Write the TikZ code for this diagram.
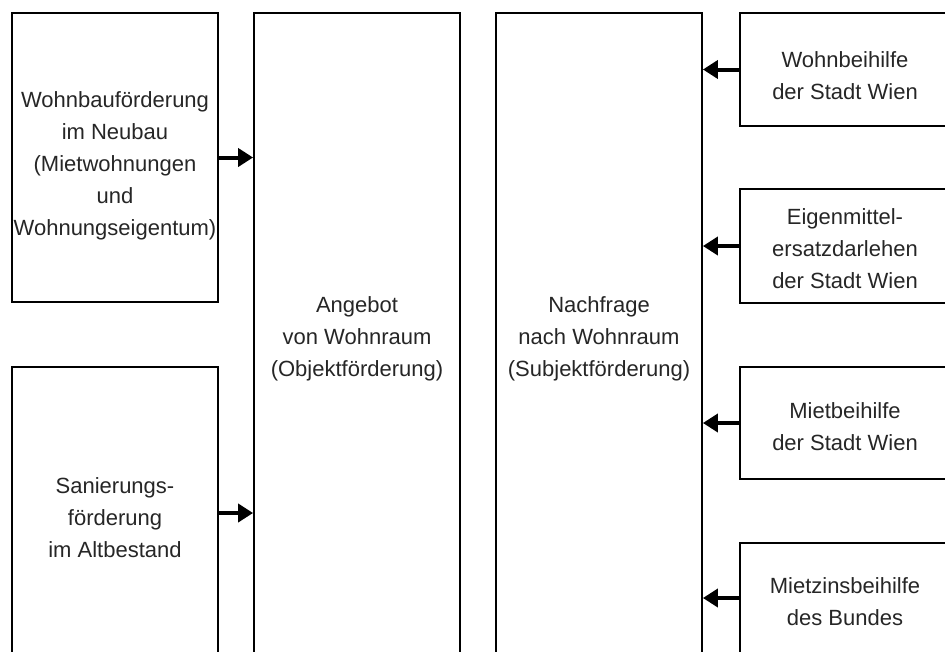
\documentclass[tikz,border=0pt]{standalone}
\usepackage{fontspec}
\setmainfont{Liberation Sans}
\usetikzlibrary{arrows.meta}
\begin{document}
\begin{tikzpicture}[x=1pt,y=-1pt,
  box/.style={draw, line width=1.8pt, inner sep=0pt},
  txt/.style={inner sep=0pt, align=center, text=black!85,
    font=\fontsize{22}{32}\selectfont},
  arr/.style={line width=4pt, -{Triangle[length=15pt,width=18pt]}}]
\useasboundingbox (0,0) rectangle (945,651);
\clip (0,0) rectangle (945,651);
% left column
\node[box, minimum width=206, minimum height=289] (wb) at (115,157.5) {};
\node[box, minimum width=206, minimum height=292] (san) at (115,513) {};
% middle columns
\node[box, minimum width=206, minimum height=646] (ang) at (357,336) {};
\node[box, minimum width=206, minimum height=646] (nach) at (599,336) {};
% right column
\node[box, minimum width=210, minimum height=113] (r1) at (845,69.5) {};
\node[box, minimum width=210, minimum height=114] (r2) at (845,246) {};
\node[box, minimum width=210, minimum height=112] (r3) at (845,423) {};
\node[box, minimum width=210, minimum height=110] (r4) at (845,598) {};
% texts
\node[txt] (twb) at ([yshift=-8pt]wb.center)
  {Wohnbauförderung\\im Neubau\\(Mietwohnungen\\und\\Wohnungseigentum)};
\node[txt] (tsan) at ([yshift=-5pt]san.center) {Sanierungs-\\förderung\\im Altbestand};
\node[txt] (tang) at ([yshift=-3pt]ang.center) {Angebot\\von Wohnraum\\(Objektförderung)};
\node[txt] (tnach) at ([yshift=-3pt]nach.center) {Nachfrage\\nach Wohnraum\\(Subjektförderung)};
\node[txt] (tr1) at ([yshift=-6pt]r1.center) {Wohnbeihilfe\\der Stadt Wien};
\node[txt] (tr2) at ([yshift=-3pt]r2.center) {Eigenmittel-\\ersatzdarlehen\\der Stadt Wien};
\node[txt] (tr3) at ([yshift=-4pt]r3.center) {Mietbeihilfe\\der Stadt Wien};
\node[txt] (tr4) at ([yshift=-4pt]r4.center) {Mietzinsbeihilfe\\des Bundes};
% arrows
\draw[arr] (wb.east) -- (wb.east -| ang.west);
\draw[arr] (san.east) -- (san.east -| ang.west);
\draw[arr] (r1.west) -- (r1.west -| nach.east);
\draw[arr] (r2.west) -- (r2.west -| nach.east);
\draw[arr] (r3.west) -- (r3.west -| nach.east);
\draw[arr] (r4.west) -- (r4.west -| nach.east);
\end{tikzpicture}
\end{document}
